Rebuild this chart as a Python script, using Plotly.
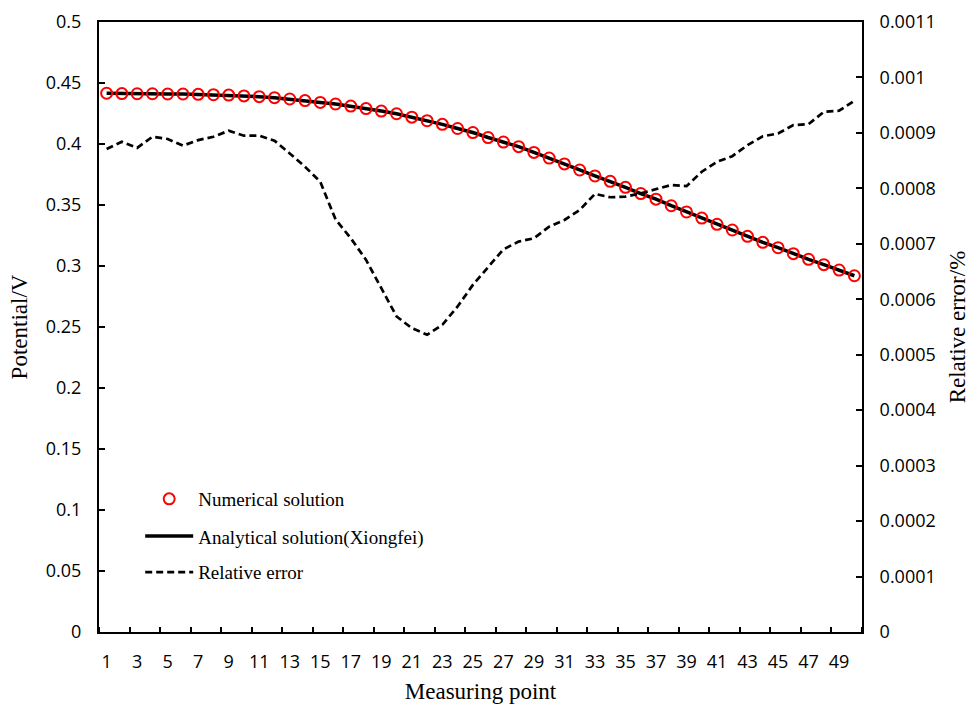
import plotly.graph_objects as go

points = list(range(1, 51))

potential = [
    0.4416, 0.4413, 0.4412, 0.4412, 0.4410, 0.4410, 0.4407, 0.4404, 0.4401, 0.4394,
    0.4388, 0.4380, 0.4369, 0.4356, 0.4341, 0.4328, 0.4311, 0.4290, 0.4270, 0.4248,
    0.4220, 0.4191, 0.4161, 0.4127, 0.4094, 0.4053, 0.4016, 0.3978, 0.3931, 0.3885,
    0.3837, 0.3787, 0.3738, 0.3694, 0.3645, 0.3594, 0.3548, 0.3494, 0.3443, 0.3393,
    0.3342, 0.3295, 0.3243, 0.3194, 0.3150, 0.3101, 0.3055, 0.3011, 0.2967, 0.2920,
]

rel_error = [
    0.000871, 0.000884, 0.000873, 0.000893, 0.000889, 0.000877, 0.000887, 0.000893, 0.000904, 0.000895,
    0.000895, 0.000886, 0.000863, 0.000839, 0.000812, 0.000744, 0.000710, 0.000671, 0.000620, 0.000569,
    0.000548, 0.000536, 0.000554, 0.000587, 0.000626, 0.000659, 0.000690, 0.000704, 0.000710, 0.000731,
    0.000743, 0.000761, 0.000790, 0.000784, 0.000785, 0.000791, 0.000798, 0.000806, 0.000804, 0.000830,
    0.000848, 0.000858, 0.000878, 0.000894, 0.000899, 0.000914, 0.000916, 0.000938, 0.000940, 0.000958,
]

x_tickvals = list(range(1, 50, 2))
x_ticktext = [str(v) for v in x_tickvals]
y_tickvals = [i * 0.05 for i in range(11)]
y_ticktext = ["0", "0.05", "0.1", "0.15", "0.2", "0.25", "0.3", "0.35", "0.4", "0.45", "0.5"]
y2_tickvals = [i * 0.0001 for i in range(12)]
y2_ticktext = ["0", "0.0001", "0.0002", "0.0003", "0.0004", "0.0005", "0.0006",
               "0.0007", "0.0008", "0.0009", "0.001", "0.0011"]

tick_font = dict(family="Open Sans", size=18, color="black")
serif = "Liberation Serif"
title_font = dict(family=serif, size=23, color="black")

fig = go.Figure()

fig.add_trace(go.Scatter(
    x=points, y=potential, mode="lines", name="Analytical solution(Xiongfei)",
    line=dict(color="black", width=3.5), legend="legend2",
))
fig.add_trace(go.Scatter(
    x=points, y=potential, mode="markers", name="Numerical solution",
    marker=dict(symbol="circle-open", size=11, color="#FF0000", line=dict(width=2, color="#FF0000")),
    legend="legend",
))
fig.add_trace(go.Scatter(
    x=points, y=rel_error, mode="lines", name="Relative error", yaxis="y2",
    line=dict(color="black", width=2.7, dash="7px,4px"), legend="legend3",
))

leg_common = dict(font=dict(family=serif, size=19, color="black"), bgcolor="rgba(0,0,0,0)",
                  xanchor="left", yanchor="middle", x=0.054, itemwidth=48)

fig.update_layout(
    width=975, height=704,
    margin=dict(l=99, r=113, t=22, b=72),
    paper_bgcolor="white", plot_bgcolor="white",
    showlegend=True,
    legend=dict(**leg_common, y=0.218),
    legend2=dict(**leg_common, y=0.157),
    legend3=dict(**leg_common, y=0.098),
    xaxis=dict(
        range=[0.5, 50.5], tickvals=x_tickvals, ticktext=x_ticktext, ticks="",
        showline=True, linecolor="black", linewidth=2, mirror=True, automargin=False,
        showgrid=False, zeroline=False, tickfont=tick_font, ticklabelstandoff=12,
        minor=dict(ticks="inside", tick0=0.5, dtick=2, ticklen=5, tickwidth=1.5, tickcolor="black", showgrid=False),
        title=dict(text="Measuring point", font=title_font, standoff=12),
    ),
    yaxis=dict(
        range=[0, 0.5], tickvals=y_tickvals, ticktext=y_ticktext,
        ticks="inside", ticklen=6, tickwidth=1.5, tickcolor="black",
        showline=True, linecolor="black", linewidth=2, automargin=False,
        showgrid=False, zeroline=False, tickfont=tick_font, ticklabelstandoff=12,
        title=dict(text="Potential/V", font=title_font, standoff=12),
    ),
    yaxis2=dict(
        range=[0, 0.0011], tickvals=y2_tickvals, ticktext=y2_ticktext,
        overlaying="y", side="right",
        ticks="inside", ticklen=6, tickwidth=1.5, tickcolor="black",
        showline=True, linecolor="black", linewidth=2, automargin=False,
        showgrid=False, zeroline=False, tickfont=tick_font, ticklabelstandoff=12,
        title=dict(text="Relative error/%", font=title_font, standoff=14),
    ),
)

fig.write_html("out.html")
